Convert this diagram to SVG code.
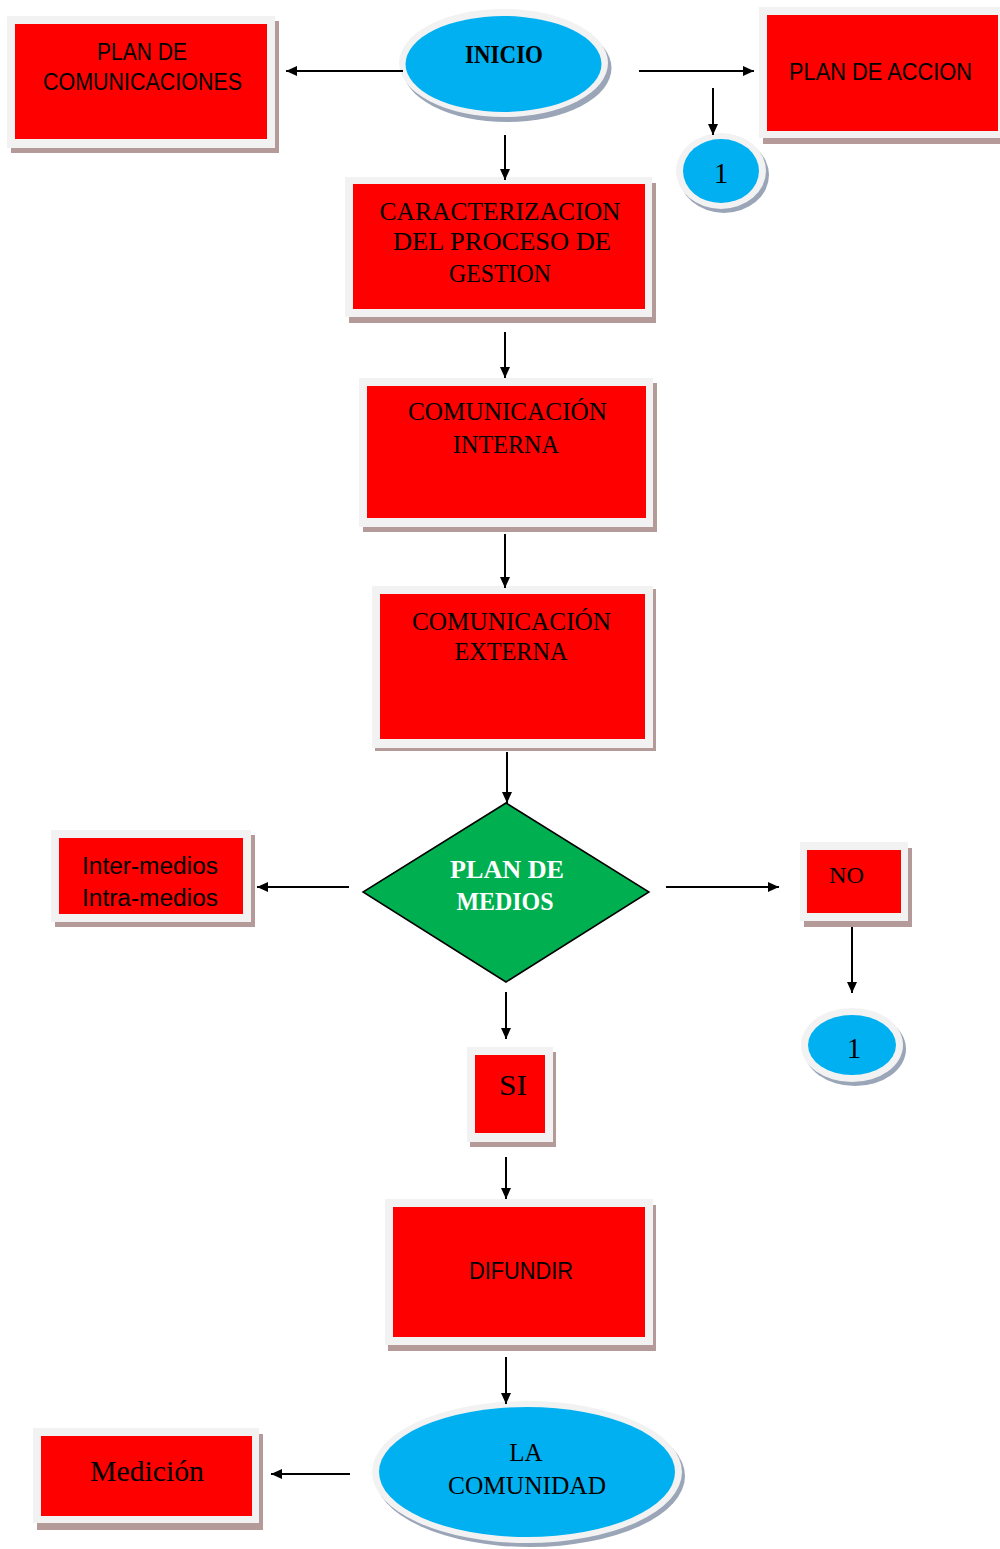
<svg xmlns="http://www.w3.org/2000/svg" width="1000" height="1549" viewBox="0 0 1000 1549">
<defs>
<style>
.frame{fill:#f2f2f2}
.shadow{fill:#b59a9a}
.red{fill:#ff0000}
.eshadow{fill:#9aa5b8}
.blue{fill:#00b0f0}
.sans{font-family:"Liberation Sans",Arial,sans-serif;font-size:23px;fill:#000;text-anchor:middle}
.serif{font-family:"Liberation Serif","Times New Roman",serif;font-size:25px;fill:#000;text-anchor:middle}
.bold{font-weight:bold}
.conn{stroke:#000;stroke-width:2;fill:none}
</style>
<marker id="arr" markerUnits="userSpaceOnUse" markerWidth="12" markerHeight="10" refX="11" refY="5" orient="auto">
<path d="M0,0 L11,5 L0,10 z" fill="#000"/>
</marker>
<clipPath id="clipIntra"><rect x="55" y="880" width="200" height="26"/></clipPath>
</defs>
<rect width="1000" height="1549" fill="#fff"/>

<g id="plan-comunicaciones">
<rect class="shadow" x="11" y="21" width="268" height="132"/>
<rect class="frame" x="7" y="16" width="268" height="132"/>
<rect class="red" x="15" y="24" width="252" height="115"/>
<text class="sans" x="142" y="60" textLength="90" lengthAdjust="spacingAndGlyphs">PLAN DE</text>
<text class="sans" x="142.5" y="90" textLength="199" lengthAdjust="spacingAndGlyphs">COMUNICACIONES</text>
</g>

<g id="inicio">
<ellipse class="eshadow" cx="507" cy="68" rx="104.5" ry="54"/>
<ellipse class="frame" cx="503.5" cy="63" rx="104.5" ry="54"/>
<ellipse class="blue" cx="503.5" cy="64" rx="98" ry="48"/>
<text class="serif bold" x="504" y="63" style="font-size:26px" textLength="78" lengthAdjust="spacingAndGlyphs">INICIO</text>
</g>

<g id="plan-accion">
<rect class="shadow" x="763" y="13" width="245" height="131"/>
<rect class="frame" x="759" y="7" width="245" height="131"/>
<rect class="red" x="767" y="15" width="231" height="116"/>
<text class="sans" x="880.5" y="80" textLength="183" lengthAdjust="spacingAndGlyphs">PLAN DE ACCION</text>
</g>

<g id="conector-1-arriba">
<ellipse class="eshadow" cx="724" cy="175" rx="45" ry="38"/>
<ellipse class="frame" cx="721" cy="171" rx="45" ry="38"/>
<ellipse class="blue" cx="721" cy="171" rx="38" ry="32"/>
<text class="serif" x="721" y="183" style="font-size:29px">1</text>
</g>

<g id="caracterizacion">
<rect class="shadow" x="349" y="183" width="307" height="140"/>
<rect class="frame" x="345" y="177" width="307" height="140"/>
<rect class="red" x="353" y="184" width="292" height="125"/>
<text class="serif" x="500" y="220" textLength="241" lengthAdjust="spacingAndGlyphs">CARACTERIZACION</text>
<text class="serif" x="502" y="250" textLength="218" lengthAdjust="spacingAndGlyphs">DEL PROCESO  DE</text>
<text class="serif" x="500" y="282" textLength="102" lengthAdjust="spacingAndGlyphs">GESTION</text>
</g>

<g id="comunicacion-interna">
<rect class="shadow" x="363" y="383" width="294" height="149"/>
<rect class="frame" x="359" y="378" width="294" height="149"/>
<rect class="red" x="367" y="386" width="279" height="132"/>
<text class="serif" x="507.5" y="420" textLength="199" lengthAdjust="spacingAndGlyphs">COMUNICACIÓN</text>
<text class="serif" x="506" y="453" textLength="106" lengthAdjust="spacingAndGlyphs">INTERNA</text>
</g>

<g id="comunicacion-externa">
<rect class="shadow" x="375" y="589" width="281" height="162"/>
<rect class="frame" x="372" y="586" width="281" height="162"/>
<rect class="red" x="380" y="594" width="265" height="145"/>
<text class="serif" x="511.5" y="630" textLength="199" lengthAdjust="spacingAndGlyphs">COMUNICACIÓN</text>
<text class="serif" x="511" y="660" textLength="113" lengthAdjust="spacingAndGlyphs">EXTERNA</text>
</g>

<g id="plan-medios">
<polygon points="506,803 649,892 506,982 363,892" fill="#00b050" stroke="#000" stroke-width="1.5"/>
<text class="serif bold" x="507" y="878" style="fill:#fff" textLength="114" lengthAdjust="spacingAndGlyphs">PLAN DE</text>
<text class="serif bold" x="505" y="910" style="fill:#fff" textLength="97" lengthAdjust="spacingAndGlyphs">MEDIOS</text>
</g>

<g id="inter-intra-medios">
<rect class="shadow" x="55" y="835" width="200" height="92"/>
<rect class="frame" x="51" y="830" width="200" height="92"/>
<rect class="red" x="59" y="838" width="184" height="76"/>
<text class="sans" x="150" y="874" textLength="136" lengthAdjust="spacingAndGlyphs">Inter-medios</text>
<text class="sans" x="150" y="906" textLength="136" lengthAdjust="spacingAndGlyphs" clip-path="url(#clipIntra)">Intra-medios</text>
</g>

<g id="no">
<rect class="shadow" x="804" y="848" width="108" height="79"/>
<rect class="frame" x="800" y="842" width="108" height="79"/>
<rect class="red" x="807" y="850" width="94" height="63"/>
<text class="serif" x="846.5" y="883" style="font-size:24px" textLength="35" lengthAdjust="spacingAndGlyphs">NO</text>
</g>

<g id="conector-1-abajo">
<ellipse class="eshadow" cx="855" cy="1049" rx="51" ry="37"/>
<ellipse class="frame" cx="852" cy="1045" rx="51" ry="37"/>
<ellipse class="blue" cx="852" cy="1045" rx="44" ry="30"/>
<text class="serif" x="854" y="1058" style="font-size:29px">1</text>
</g>

<g id="si">
<rect class="shadow" x="470" y="1052" width="86" height="95"/>
<rect class="frame" x="467" y="1047" width="86" height="95"/>
<rect class="red" x="475" y="1055" width="70" height="78"/>
<text class="serif" x="513" y="1095" style="font-size:30px" textLength="28" lengthAdjust="spacingAndGlyphs">SI</text>
</g>

<g id="difundir">
<rect class="shadow" x="388" y="1205" width="268" height="146"/>
<rect class="frame" x="385" y="1199" width="268" height="146"/>
<rect class="red" x="393" y="1207" width="252" height="130"/>
<text class="sans" x="521" y="1279" textLength="104" lengthAdjust="spacingAndGlyphs">DIFUNDIR</text>
</g>

<g id="la-comunidad">
<ellipse class="eshadow" cx="530" cy="1476" rx="155" ry="71"/>
<ellipse class="frame" cx="527" cy="1472" rx="155" ry="71"/>
<ellipse class="blue" cx="527" cy="1472" rx="148" ry="65"/>
<text class="serif" x="526" y="1461">LA</text>
<text class="serif" x="527" y="1494" textLength="158" lengthAdjust="spacingAndGlyphs">COMUNIDAD</text>
</g>

<g id="medicion">
<rect class="shadow" x="37" y="1434" width="226" height="96"/>
<rect class="frame" x="33" y="1428" width="226" height="95"/>
<rect class="red" x="41" y="1436" width="211" height="80"/>
<text class="serif" x="147" y="1481" style="font-size:30px" textLength="114" lengthAdjust="spacingAndGlyphs">Medición</text>
</g>

<g id="connectors">
<path class="conn" d="M403,71 L286,71" marker-end="url(#arr)"/>
<path class="conn" d="M639,71 L754,71" marker-end="url(#arr)"/>
<path class="conn" d="M713,88 L713,135" marker-end="url(#arr)"/>
<path class="conn" d="M505,135 L505,180" marker-end="url(#arr)"/>
<path class="conn" d="M505,332 L505,378" marker-end="url(#arr)"/>
<path class="conn" d="M505,534 L505,588" marker-end="url(#arr)"/>
<path class="conn" d="M507,752 L507,803" marker-end="url(#arr)"/>
<path class="conn" d="M349,887 L257,887" marker-end="url(#arr)"/>
<path class="conn" d="M666,887 L779,887" marker-end="url(#arr)"/>
<path class="conn" d="M506,992 L506,1039" marker-end="url(#arr)"/>
<path class="conn" d="M852,927 L852,993" marker-end="url(#arr)"/>
<path class="conn" d="M506,1157 L506,1199" marker-end="url(#arr)"/>
<path class="conn" d="M506,1357 L506,1404" marker-end="url(#arr)"/>
<path class="conn" d="M350,1474 L271,1474" marker-end="url(#arr)"/>
</g>
</svg>
